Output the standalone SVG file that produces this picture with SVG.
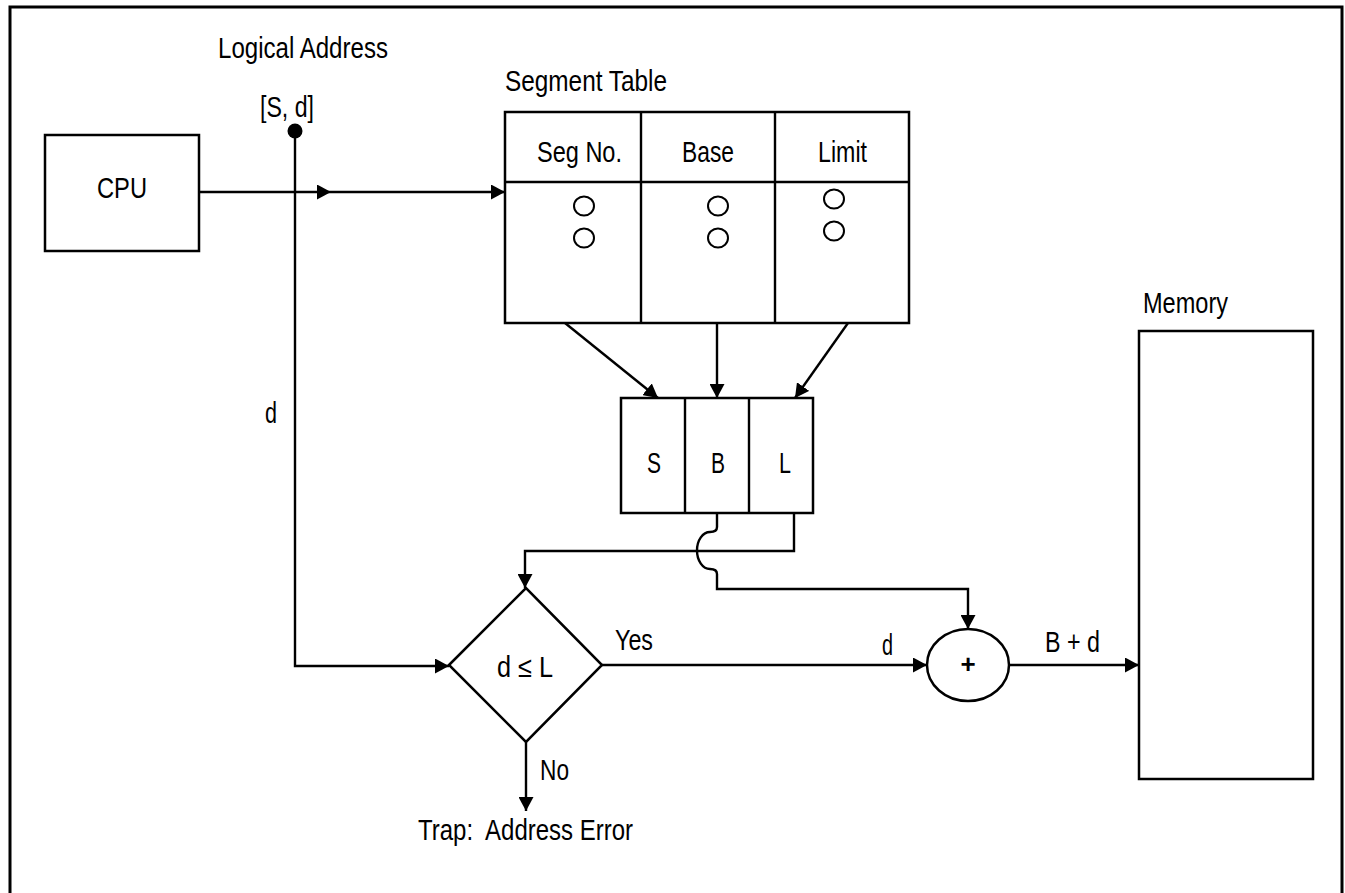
<svg xmlns="http://www.w3.org/2000/svg" width="1345" height="893" viewBox="0 0 1345 893">
<style>
text{font-family:"Liberation Sans",Arial,sans-serif;font-size:29px;fill:#000}
.box{fill:#fff;stroke:#000;stroke-width:2.5}
.ln{fill:none;stroke:#000;stroke-width:2.4}
.arr{marker-end:url(#ah)}
</style>
<defs>
<marker id="ah" viewBox="0 0 14 15" refX="14" refY="7.5" markerWidth="14" markerHeight="15" markerUnits="userSpaceOnUse" orient="auto">
<path d="M0,0 L14,7.5 L0,15 z" fill="#000"/>
</marker>
</defs>
<rect x="0" y="0" width="1345" height="893" fill="#fff"/>
<rect x="10" y="7" width="1332" height="900" fill="none" stroke="#000" stroke-width="3"/>

<g id="cpu">
<rect class="box" x="45" y="135" width="154" height="116"/>
<text x="97" y="198" textLength="50" lengthAdjust="spacingAndGlyphs">CPU</text>
</g>

<g id="logical-address">
<text x="218" y="58" textLength="170" lengthAdjust="spacingAndGlyphs">Logical Address</text>
<text x="260" y="117" textLength="54" lengthAdjust="spacingAndGlyphs">[S, d]</text>
<circle cx="295" cy="131" r="7.5" fill="#000"/>
</g>

<g id="segment-table">
<text x="505" y="91" textLength="162" lengthAdjust="spacingAndGlyphs">Segment Table</text>
<rect class="box" x="505" y="112" width="404" height="211"/>
<path class="ln" d="M505,182 H909 M641,112 V323 M775,112 V323" stroke-width="2.5"/>
<text x="537" y="162" textLength="85" lengthAdjust="spacingAndGlyphs">Seg No.</text>
<text x="682" y="162" textLength="52" lengthAdjust="spacingAndGlyphs">Base</text>
<text x="818" y="162" textLength="49" lengthAdjust="spacingAndGlyphs">Limit</text>
<g fill="none" stroke="#000" stroke-width="2">
<ellipse cx="584" cy="206" rx="10" ry="9.5"/>
<ellipse cx="584" cy="238" rx="10" ry="9.5"/>
<ellipse cx="718" cy="206" rx="10" ry="9.5"/>
<ellipse cx="718" cy="238" rx="10" ry="9.5"/>
<ellipse cx="834" cy="199" rx="10" ry="9.5"/>
<ellipse cx="834" cy="231" rx="10" ry="9.5"/>
</g>
</g>

<g id="register">
<rect class="box" x="621" y="398" width="192" height="115"/>
<path class="ln" d="M685,398 V513 M749,398 V513" stroke-width="2.5"/>
<text x="647" y="473" textLength="14" lengthAdjust="spacingAndGlyphs">S</text>
<text x="711" y="473" textLength="14" lengthAdjust="spacingAndGlyphs">B</text>
<text x="779" y="473" textLength="12" lengthAdjust="spacingAndGlyphs">L</text>
</g>

<g id="decision">
<polygon class="box" points="449,665 526,588 602,665 526,742"/>
<text x="497" y="677" textLength="56" lengthAdjust="spacingAndGlyphs">d ≤ L</text>
</g>

<g id="adder">
<ellipse class="box" cx="968" cy="665" rx="41" ry="36"/>
<text x="968" y="673" text-anchor="middle" font-weight="bold" style="font-size:26px">+</text>
</g>

<g id="memory">
<text x="1143" y="313" textLength="85" lengthAdjust="spacingAndGlyphs">Memory</text>
<rect class="box" x="1139" y="331" width="174" height="448"/>
</g>

<g id="trap">
<text x="418" y="840" textLength="215" lengthAdjust="spacingAndGlyphs" xml:space="preserve">Trap:  Address Error</text>
</g>

<g id="connectors">
<path class="ln arr" d="M199,192 H331"/>
<path class="ln arr" d="M331,192 H505"/>
<path class="ln arr" d="M295,131 V666 H449"/>
<path class="ln arr" d="M565,323 L658,398"/>
<path class="ln arr" d="M717,323 V398"/>
<path class="ln arr" d="M848,323 L795,398"/>
<path class="ln arr" d="M794,513 V551 H525 V588"/>
<path class="ln arr" d="M717,513 V527 Q717,532 710,532 A13,18.5 0 0 0 710,569 Q717,569 717,574 V589 H968 V629"/>
<path class="ln arr" d="M602,665 H927"/>
<path class="ln arr" d="M1009,665 H1139"/>
<path class="ln arr" d="M526,742 V811"/>
<text x="265" y="423" textLength="12" lengthAdjust="spacingAndGlyphs">d</text>
<text x="615" y="650" textLength="38" lengthAdjust="spacingAndGlyphs">Yes</text>
<text x="882" y="655" textLength="11" lengthAdjust="spacingAndGlyphs">d</text>
<text x="1045" y="652" textLength="55" lengthAdjust="spacingAndGlyphs">B + d</text>
<text x="540" y="780" textLength="29" lengthAdjust="spacingAndGlyphs">No</text>
</g>
</svg>
